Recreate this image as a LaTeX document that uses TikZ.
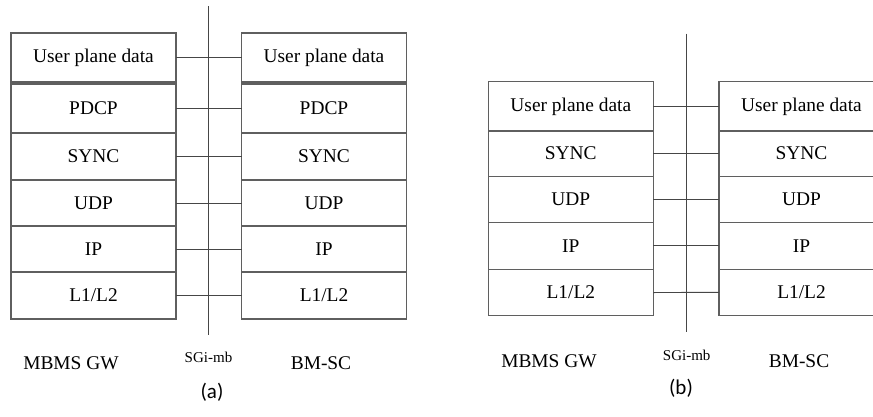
\documentclass[tikz,border=0pt]{standalone}
\usepackage{fontspec}
\setmainfont{Liberation Serif}
\newfontfamily\capfont{Carlito}
\newfontfamily\stackfont{Liberation Serif}
\definecolor{boxline}{RGB}{95,95,95}
\definecolor{wire}{RGB}{70,70,70}
\begin{document}
\begin{tikzpicture}[x=1pt,y=-1pt,
  layer/.style={draw=boxline,line width=1.1pt,anchor=north west,minimum width=165pt,
    inner sep=0pt,outer sep=0pt,font=\stackfont\fontsize{19.4}{23}\selectfont},
  wireline/.style={draw=wire,line width=0.9pt},
  iface/.style={draw=wire,line width=0.9pt},
  entity/.style={font=\stackfont\fontsize{19.4}{23}\selectfont,inner sep=0pt},
  small/.style={font=\stackfont\fontsize{15}{18}\selectfont,inner sep=0pt},
  caption/.style={font=\capfont\fontsize{21}{25}\selectfont,inner sep=0pt}]
\useasboundingbox (0,0) rectangle (873,416);
\clip (0,0) rectangle (873,416);

% ---------- (a) MBMS GW <-> BM-SC with PDCP ----------
% MBMS GW stack
\node[layer,minimum height=49pt] (aL1) at (11,33) {User plane data};
\node[layer,minimum height=49pt] (aL2) at (11,84) {PDCP};
\node[layer,minimum height=47pt] (aL3) at (11,133) {SYNC};
\node[layer,minimum height=46pt] (aL4) at (11,180) {UDP};
\node[layer,minimum height=46pt] (aL5) at (11,226) {IP};
\node[layer,minimum height=47pt] (aL6) at (11,272) {L1/L2};
% BM-SC stack
\node[layer,minimum height=49pt] (aR1) at (241.5,33) {User plane data};
\node[layer,minimum height=49pt] (aR2) at (241.5,84) {PDCP};
\node[layer,minimum height=47pt] (aR3) at (241.5,133) {SYNC};
\node[layer,minimum height=46pt] (aR4) at (241.5,180) {UDP};
\node[layer,minimum height=46pt] (aR5) at (241.5,226) {IP};
\node[layer,minimum height=47pt] (aR6) at (241.5,272) {L1/L2};
% SGi-mb reference point
\coordinate (aTop) at (208.7,6);
\coordinate (aBot) at (208.7,335);
\draw[iface] (aTop) -- (aBot);
\foreach \i in {1,...,6}{
  \draw[wireline] (aL\i.east) -- (aR\i.west);
}
\node[entity] (aGW) at (71,363) {MBMS GW};
\node[small] (aIf) at (208.5,357) {SGi-mb};
\node[entity] (aSC) at (321,363) {BM-SC};
\node[caption] (aCap) at (212,392) {(a)};

% ---------- (b) MBMS GW <-> BM-SC without PDCP ----------
% MBMS GW stack
\node[layer,minimum height=49.3pt] (bL1) at (488.3,81.7) {User plane data};
\node[layer,minimum height=45.3pt] (bL2) at (488.3,131) {SYNC};
\node[layer,minimum height=46pt] (bL3) at (488.3,176.3) {UDP};
\node[layer,minimum height=47pt] (bL4) at (488.3,222.3) {IP};
\node[layer,minimum height=46.5pt] (bL5) at (488.3,269.3) {L1/L2};
% BM-SC stack
\node[layer,minimum height=49.3pt] (bR1) at (719,81.7) {User plane data};
\node[layer,minimum height=45.3pt] (bR2) at (719,131) {SYNC};
\node[layer,minimum height=46pt] (bR3) at (719,176.3) {UDP};
\node[layer,minimum height=47pt] (bR4) at (719,222.3) {IP};
\node[layer,minimum height=46pt] (bR5) at (719,269.3) {L1/L2};
% SGi-mb reference point
\coordinate (bTop) at (686.7,33.5);
\coordinate (bBot) at (686.7,331.5);
\draw[iface] (bTop) -- (bBot);
\foreach \i in {1,...,5}{
  \draw[wireline] (bL\i.east) -- (bR\i.west);
}
\node[entity] (bGW) at (549,361) {MBMS GW};
\node[small] (bIf) at (686.7,355) {SGi-mb};
\node[entity] (bSC) at (799,361) {BM-SC};
\node[caption] (bCap) at (681,388) {(b)};
\end{tikzpicture}
\end{document}
